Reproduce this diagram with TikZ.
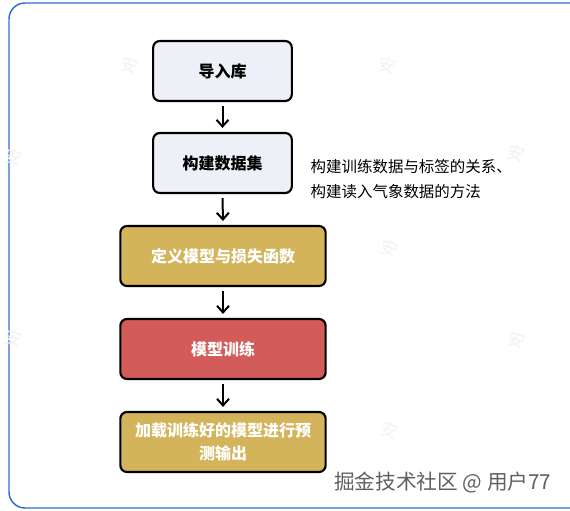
\documentclass[tikz,border=0pt]{standalone}
\usepackage{fontspec}
\setmainfont{Noto Sans CJK SC}
\usetikzlibrary{arrows.meta}
\definecolor{frameblue}{HTML}{2F6FD0}
\definecolor{lightfill}{HTML}{EEF0F8}
\definecolor{goldfill}{HTML}{D4B45A}
\definecolor{redfill}{HTML}{D35C5A}
\tikzset{
  box/.style={draw=black, line width=1.6pt, rounded corners=5pt, minimum height=45pt, align=center, font=\fontsize{12pt}{17pt}\selectfont\bfseries},
  smallbox/.style={box, fill=lightfill, minimum width=104pt, text=black},
  widebox/.style={box, minimum width=154pt, text=white},
  flow/.style={line width=1.5pt, -{Straight Barb[length=5pt,width=9pt,line width=1.5pt]}},
  wm/.style={text=gray!10, rotate=-15, font=\fontsize{13pt}{13pt}\selectfont}
}
\begin{document}
\begin{tikzpicture}[x=0.75pt,y=-0.75pt]
\useasboundingbox (0,0) rectangle (570,510);
\fill[white] (0,0) rectangle (570,510);
\draw[frameblue, line width=1.1pt, rounded corners=12pt] (9,3) rectangle (620,508);
% faint watermarks
\foreach \p in {(130,65),(388,65),(14,157),(517,153),(390,248),(14,338),(517,340),(390,430)}
  \node[wm] at \p {安};
\node[smallbox] (n1) at (222.5,71) {导入库};
\node[smallbox] (n2) at (222.5,163) {构建数据集};
\node[widebox, fill=goldfill] (n3) at (223,256) {定义模型与损失函数};
\node[widebox, fill=redfill] (n4) at (223,349) {模型训练};
\node[widebox, fill=goldfill] (n5) at (223,442) {加载训练好的模型进行预\\测输出};
\node[anchor=west, align=left, font=\fontsize{11.6pt}{18.5pt}\selectfont] (note) at (306,179) {构建训练数据与标签的关系、\\构建读入气象数据的方法};
\draw[flow] ([yshift=-3pt]n1.south) -- ([yshift=3pt]n2.north);
\draw[flow] ([yshift=-3pt]n2.south) -- ([yshift=3pt]n3.north);
\draw[flow] ([yshift=-3pt]n3.south) -- ([yshift=3pt]n4.north);
\draw[flow] ([yshift=-3pt]n4.south) -- ([yshift=3pt]n5.north);
\node[anchor=east, text=gray!75!black, font=\fontsize{15.5pt}{15.5pt}\selectfont] (wmtext) at (556,483) {掘金技术社区 @ 用户77};
\end{tikzpicture}
\end{document}
